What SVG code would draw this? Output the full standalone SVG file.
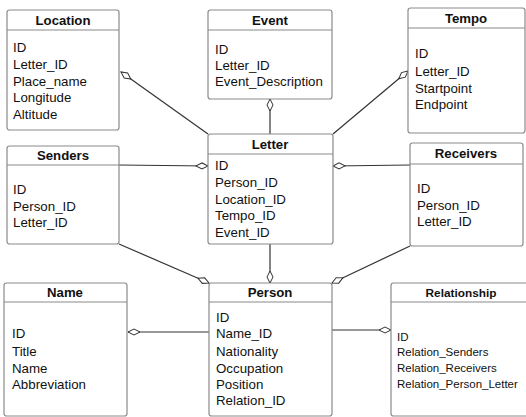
<svg xmlns="http://www.w3.org/2000/svg" width="526" height="417" viewBox="0 0 526 417">
<style>
.box{fill:#fff;stroke:#8a8a8a;stroke-width:1.2}
.div{stroke:#8a8a8a;stroke-width:1.2}
.t{font-family:"Liberation Sans",Arial,sans-serif;font-size:13.2px;font-weight:bold;fill:#111;text-anchor:middle}
.f{font-family:"Liberation Sans",Arial,sans-serif;font-size:13.3px;fill:#111}
.fs{font-family:"Liberation Sans",Arial,sans-serif;font-size:11.5px;fill:#111}
.ts{font-family:"Liberation Sans",Arial,sans-serif;font-size:11.8px;font-weight:bold;fill:#111;text-anchor:middle}
.c{fill:none;stroke:#333;stroke-width:1.2}
</style>
<defs>
<marker id="dia" markerUnits="userSpaceOnUse" markerWidth="14" markerHeight="8" refX="13" refY="4" orient="auto" viewBox="0 0 14 8">
<path d="M1,4 L7,1 L13,4 L7,7 Z" fill="#fff" stroke="#333" stroke-width="1"/>
</marker>
</defs>
<g id="connectors">
<path class="c" d="M208,134 L121,72" marker-end="url(#dia)"/>
<path class="c" d="M270,134 L270,99" marker-end="url(#dia)"/>
<path class="c" d="M333,134 L408,71" marker-end="url(#dia)"/>
<path class="c" d="M119,165 L208,166" marker-end="url(#dia)"/>
<path class="c" d="M410,165 L333,166" marker-end="url(#dia)"/>
<path class="c" d="M270,244 L270,283" marker-end="url(#dia)"/>
<path class="c" d="M119,244 L209,283" marker-end="url(#dia)"/>
<path class="c" d="M410,246 L332,283" marker-end="url(#dia)"/>
<path class="c" d="M209,332 L128,332" marker-end="url(#dia)"/>
<path class="c" d="M332,330 L391,330" marker-end="url(#dia)"/>
</g>
<g id="location">
<rect class="box" x="7" y="10" width="112" height="120" rx="2.5"/>
<line class="div" x1="7" y1="30" x2="119" y2="30"/>
<text class="t" x="63" y="25">Location</text>
<text class="f" x="13" y="52">ID</text>
<text class="f" x="13" y="69">Letter_ID</text>
<text class="f" x="13" y="86">Place_name</text>
<text class="f" x="13" y="102">Longitude</text>
<text class="f" x="13" y="119">Altitude</text>
</g>
<g id="event">
<rect class="box" x="208" y="10" width="124" height="89" rx="2.5"/>
<line class="div" x1="208" y1="30" x2="332" y2="30"/>
<text class="t" x="270" y="25">Event</text>
<text class="f" x="215" y="54">ID</text>
<text class="f" x="215" y="70">Letter_ID</text>
<text class="f" x="215" y="86">Event_Description</text>
</g>
<g id="tempo">
<rect class="box" x="408" y="8" width="117" height="125" rx="2.5"/>
<line class="div" x1="408" y1="28" x2="525" y2="28"/>
<text class="t" x="466" y="23">Tempo</text>
<text class="f" x="415" y="58">ID</text>
<text class="f" x="415" y="76">Letter_ID</text>
<text class="f" x="415" y="93">Startpoint</text>
<text class="f" x="415" y="109">Endpoint</text>
</g>
<g id="senders">
<rect class="box" x="7" y="146" width="112" height="98" rx="2.5"/>
<line class="div" x1="7" y1="165" x2="119" y2="165"/>
<text class="t" x="63" y="160">Senders</text>
<text class="f" x="13" y="194">ID</text>
<text class="f" x="13" y="211">Person_ID</text>
<text class="f" x="13" y="227">Letter_ID</text>
</g>
<g id="letter">
<rect class="box" x="208" y="134" width="125" height="110" rx="2.5"/>
<line class="div" x1="208" y1="154" x2="333" y2="154"/>
<text class="t" x="270" y="149">Letter</text>
<text class="f" x="215" y="170">ID</text>
<text class="f" x="215" y="187">Person_ID</text>
<text class="f" x="215" y="204">Location_ID</text>
<text class="f" x="215" y="220">Tempo_ID</text>
<text class="f" x="215" y="237">Event_ID</text>
</g>
<g id="receivers">
<rect class="box" x="410" y="143" width="113" height="103" rx="2.5"/>
<line class="div" x1="410" y1="164" x2="523" y2="164"/>
<text class="t" x="466" y="158">Receivers</text>
<text class="f" x="417" y="193">ID</text>
<text class="f" x="417" y="210">Person_ID</text>
<text class="f" x="417" y="226">Letter_ID</text>
</g>
<g id="name">
<rect class="box" x="4" y="283" width="123" height="133" rx="2.5"/>
<line class="div" x1="4" y1="302" x2="127" y2="302"/>
<text class="t" x="65" y="297">Name</text>
<text class="f" x="12" y="338">ID</text>
<text class="f" x="12" y="356">Title</text>
<text class="f" x="12" y="373">Name</text>
<text class="f" x="12" y="389">Abbreviation</text>
</g>
<g id="person">
<rect class="box" x="209" y="283" width="123" height="133" rx="2.5"/>
<line class="div" x1="209" y1="302" x2="332" y2="302"/>
<text class="t" x="270" y="297">Person</text>
<text class="f" x="216" y="322">ID</text>
<text class="f" x="216" y="338">Name_ID</text>
<text class="f" x="216" y="356">Nationality</text>
<text class="f" x="216" y="373">Occupation</text>
<text class="f" x="216" y="389">Position</text>
<text class="f" x="216" y="405">Relation_ID</text>
</g>
<g id="relationship">
<rect class="box" x="391" y="283" width="140" height="133" rx="2.5"/>
<line class="div" x1="391" y1="302" x2="531" y2="302"/>
<text class="ts" x="461" y="297">Relationship</text>
<text class="fs" x="397" y="341">ID</text>
<text class="fs" x="397" y="356">Relation_Senders</text>
<text class="fs" x="397" y="372">Relation_Receivers</text>
<text class="fs" x="397" y="388">Relation_Person_Letter</text>
</g>
</svg>
